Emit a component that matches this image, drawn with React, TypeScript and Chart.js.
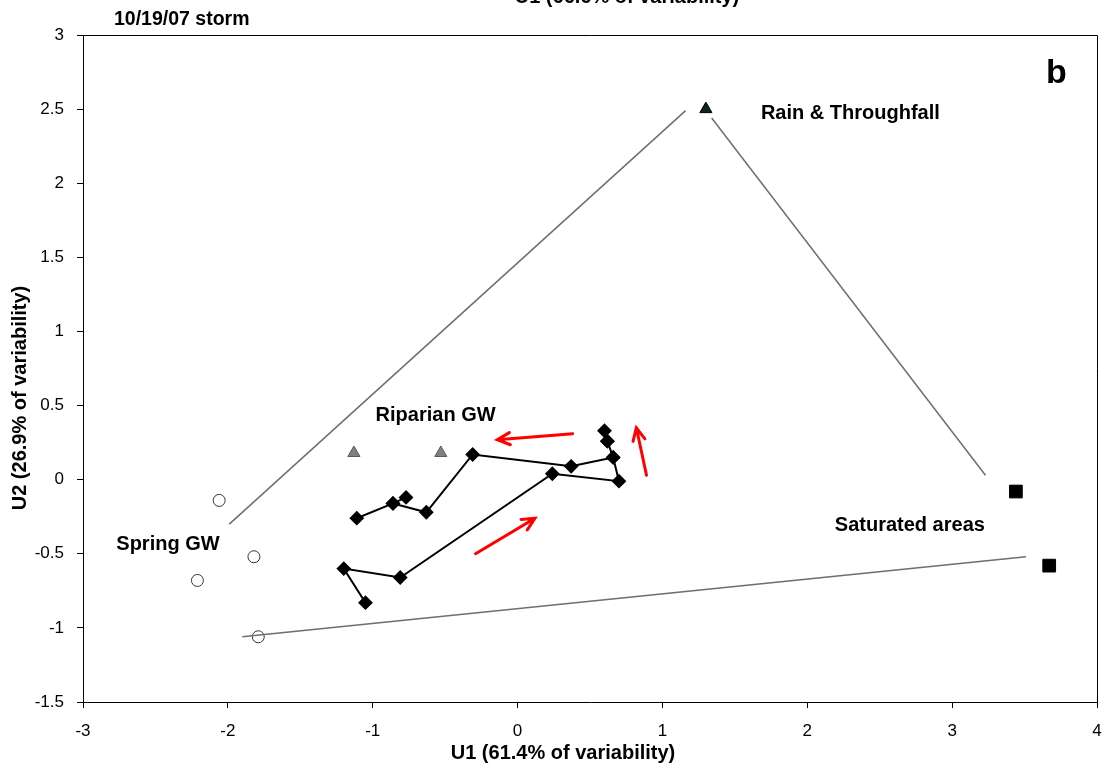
import React, { useEffect, useRef } from 'react';
import { Chart, registerables } from 'chart.js';
Chart.register(...registerables);

// Stream samples (diamonds, connected in time order)
const streamX = [-1.05, -1.2, -0.81, 0.24, 0.7, 0.66, 0.62, 0.6, 0.62, 0.66, 0.37, -0.31, -0.63, -0.86, -0.77, -0.86, -1.11];
const streamY = [-0.83, -0.6, -0.66, 0.04, -0.01, 0.15, 0.26, 0.33, 0.26, 0.15, 0.09, 0.17, -0.22, -0.16, -0.12, -0.16, -0.26];

// End-members
const rainX = [1.3];
const rainY = [2.5];
const saturatedX = [3.44, 3.67];
const saturatedY = [-0.08, -0.58];
const riparianX = [-1.13, -0.53];
const riparianY = [0.18, 0.18];
const springX = [-2.06, -1.82, -2.21, -1.79];
const springY = [-0.14, -0.52, -0.68, -1.06];

// Mixing-domain boundary lines
const boundaryX1 = [-1.99, 1.34, -1.9];
const boundaryY1 = [-0.3, 2.44, -1.06];
const boundaryX2 = [1.16, 3.23, 3.51];
const boundaryY2 = [2.49, 0.03, -0.52];

// Red hysteresis arrows (tail -> head)
const arrowTailX = [0.38, -0.29, 0.89];
const arrowTailY = [0.31, -0.5, 0.03];
const arrowHeadX = [-0.14, 0.12, 0.82];
const arrowHeadY = [0.27, -0.26, 0.35];

// Text labels
const labelText = ['Rain & Throughfall', 'Riparian GW', 'Spring GW', 'Saturated areas'];
const labelX = [1.68, -0.98, -2.77, 2.19];
const labelY = [2.47, 0.43, -0.44, -0.31];

const xTicks = [-3, -2, -1, 0, 1, 2, 3, 4];
const yTicks = [-1.5, -1, -0.5, 0, 0.5, 1, 1.5, 2, 2.5, 3];

const toPts = (xs: number[], ys: number[]) => xs.map((x, i) => ({ x, y: ys[i] }));

const FONT = '"Liberation Sans", Arial, sans-serif';

const annotPlugin = {
  id: 'annot',
  afterDatasetsDraw(chart: any) {
    const ctx = chart.ctx;
    const xs = chart.scales.x;
    const ys = chart.scales.y;
    const ca = chart.chartArea;
    ctx.save();
    // frame top/right
    ctx.strokeStyle = '#000';
    ctx.lineWidth = 1;
    ctx.beginPath();
    ctx.moveTo(ca.left, ca.top + 0.5);
    ctx.lineTo(ca.right + 0.5, ca.top + 0.5);
    ctx.lineTo(ca.right + 0.5, ca.bottom);
    ctx.stroke();

    // arrows
    ctx.strokeStyle = '#ff0000';
    ctx.lineWidth = 3;
    ctx.lineCap = 'round';
    for (let i = 0; i < arrowTailX.length; i++) {
      const x1 = xs.getPixelForValue(arrowTailX[i]);
      const y1 = ys.getPixelForValue(arrowTailY[i]);
      const x2 = xs.getPixelForValue(arrowHeadX[i]);
      const y2 = ys.getPixelForValue(arrowHeadY[i]);
      const a = Math.atan2(y2 - y1, x2 - x1);
      const h = 14;
      ctx.beginPath();
      ctx.moveTo(x1, y1);
      ctx.lineTo(x2, y2);
      ctx.moveTo(x2 - h * Math.cos(a - 0.45), y2 - h * Math.sin(a - 0.45));
      ctx.lineTo(x2, y2);
      ctx.lineTo(x2 - h * Math.cos(a + 0.45), y2 - h * Math.sin(a + 0.45));
      ctx.stroke();
    }

    // labels
    ctx.fillStyle = '#000';
    ctx.font = 'bold 20px ' + FONT;
    ctx.textBaseline = 'middle';
    ctx.textAlign = 'left';
    for (let i = 0; i < labelText.length; i++) {
      ctx.fillText(labelText[i], xs.getPixelForValue(labelX[i]), ys.getPixelForValue(labelY[i]));
    }
    ctx.font = 'bold 19.5px ' + FONT;
    ctx.fillText('10/19/07 storm', 114, 20);
    ctx.font = 'bold 34px ' + FONT;
    ctx.fillText('b', 1046, 74);

    // partially cropped top title
    ctx.font = 'bold 20px ' + FONT;
    ctx.textAlign = 'center';
    ctx.textBaseline = 'alphabetic';
    ctx.fillText('U1 (66.6% of variability)', 627, 3);

    // axis titles
    ctx.textBaseline = 'middle';
    ctx.fillText('U1 (61.4% of variability)', 563, 753);
    ctx.translate(20, 398);
    ctx.rotate(-Math.PI / 2);
    ctx.fillText('U2 (26.9% of variability)', 0, 0);
    ctx.restore();
  },
};

export default function App() {
  const ref = useRef<HTMLCanvasElement>(null);
  useEffect(() => {
    if (!ref.current) return;
    const chart = new Chart(ref.current, {
      type: 'scatter',
      data: {
        datasets: [
          ...boundaryX1.map((_, i) => ({
            type: 'line' as const,
            data: [
              { x: boundaryX1[i], y: boundaryY1[i] },
              { x: boundaryX2[i], y: boundaryY2[i] },
            ],
            borderColor: '#6e6e6e',
            borderWidth: 1.5,
            pointRadius: 0,
            showLine: true,
          })),
          {
            type: 'line' as const,
            data: toPts(streamX, streamY),
            borderColor: '#000',
            borderWidth: 2,
            pointStyle: 'rectRot',
            pointRadius: 6,
            backgroundColor: '#000',
            pointBackgroundColor: '#000',
            pointBorderColor: '#000',
            showLine: true,
          },
          {
            data: toPts(rainX, rainY),
            pointStyle: 'triangle',
            pointRadius: 7,
            backgroundColor: '#0c2424',
            borderColor: '#000',
            borderWidth: 1,
          },
          {
            data: toPts(saturatedX, saturatedY),
            pointStyle: 'rect',
            pointRadius: 9,
            backgroundColor: '#000',
            borderColor: '#000',
            borderWidth: 1,
          },
          {
            data: toPts(riparianX, riparianY),
            pointStyle: 'triangle',
            pointRadius: 7,
            backgroundColor: '#808080',
            borderColor: '#5a5a5a',
            borderWidth: 1,
          },
          {
            data: toPts(springX, springY),
            pointStyle: 'circle',
            pointRadius: 6,
            backgroundColor: '#fff',
            borderColor: '#333',
            borderWidth: 1,
          },
        ],
      },
      options: {
        responsive: false,
        animation: false,
        events: [],
        layout: { padding: { top: 35, right: 13, bottom: 0, left: 0 } },
        plugins: { legend: { display: false }, tooltip: { enabled: false } },
        scales: {
          x: {
            type: 'linear',
            min: -3,
            max: 4,
            afterFit: (s: any) => { s.height = 66; s.paddingLeft = 0; s.paddingRight = 0; },
            afterBuildTicks: (s: any) => { s.ticks = xTicks.map((v) => ({ value: v })); },
            ticks: {
              color: '#000',
              padding: 13,
              maxRotation: 0,
              font: { family: FONT, size: 17 },
              callback: (v: any) => String(v),
            },
            grid: { drawOnChartArea: false, drawTicks: true, tickLength: 6, color: '#000' },
            border: { display: true, color: '#000' },
          },
          y: {
            type: 'linear',
            min: -1.5,
            max: 3,
            afterFit: (s: any) => { s.width = 83; s.paddingTop = 0; s.paddingBottom = 0; },
            afterBuildTicks: (s: any) => { s.ticks = yTicks.map((v) => ({ value: v })); },
            ticks: {
              color: '#000',
              padding: 13,
              font: { family: FONT, size: 17 },
              callback: (v: any) => String(v),
            },
            grid: { drawOnChartArea: false, drawTicks: true, tickLength: 6, color: '#000' },
            border: { display: true, color: '#000' },
          },
        },
      },
      plugins: [annotPlugin],
    } as any);
    return () => chart.destroy();
  }, []);
  return (
    <div style={{ position: 'fixed', left: 0, top: 0, width: 1110, height: 768, background: '#fff' }}>
      <canvas ref={ref} width={1110} height={768} style={{ width: 1110, height: 768 }} />
    </div>
  );
}
